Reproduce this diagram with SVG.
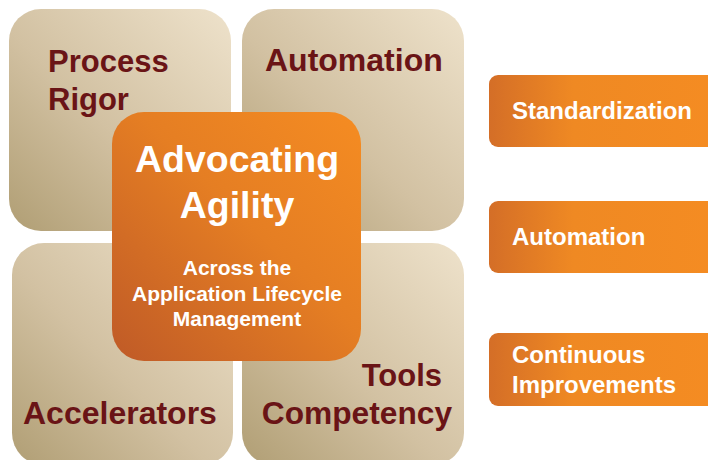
<svg xmlns="http://www.w3.org/2000/svg" width="708" height="460" viewBox="0 0 708 460">
<defs>
<linearGradient id="tile" x1="0" y1="1" x2="1" y2="0">
<stop offset="0" stop-color="#b09e74"/>
<stop offset="0.45" stop-color="#d2c1a2"/>
<stop offset="1" stop-color="#eee2cb"/>
</linearGradient>
<linearGradient id="core" x1="0" y1="1" x2="1" y2="0">
<stop offset="0" stop-color="#bf5a27"/>
<stop offset="0.55" stop-color="#e57e23"/>
<stop offset="1" stop-color="#f58c22"/>
</linearGradient>
<linearGradient id="btn" x1="0" y1="0" x2="1" y2="0">
<stop offset="0" stop-color="#d46e27"/>
<stop offset="0.35" stop-color="#ef8923"/>
<stop offset="1" stop-color="#f58c22"/>
</linearGradient>
<style>
.tile{fill:url(#tile)}
.core{fill:url(#core)}
.btn{fill:url(#btn)}
.tl{font-family:"Liberation Sans",Arial,sans-serif;font-weight:bold;font-size:31px;fill:#6a1416}
.ct{font-family:"Liberation Sans",Arial,sans-serif;font-weight:bold;fill:#ffffff;text-anchor:middle}
.bt{font-family:"Liberation Sans",Arial,sans-serif;font-weight:bold;font-size:24px;fill:#ffffff}
</style>
</defs>
<g id="tile-process-rigor">
<rect class="tile" x="9" y="9" width="222" height="222" rx="32"/>
<text class="tl" x="48" y="72">Process</text>
<text class="tl" x="48" y="110">Rigor</text>
</g>
<g id="tile-automation">
<rect class="tile" x="242" y="9" width="222" height="222" rx="32"/>
<text class="tl" x="265" y="71" style="font-size:32px">Automation</text>
</g>
<g id="tile-accelerators">
<rect class="tile" x="12" y="243" width="221" height="222" rx="32"/>
<text class="tl" x="23" y="424" style="font-size:32px">Accelerators</text>
</g>
<g id="tile-tools">
<rect class="tile" x="242" y="243" width="222" height="222" rx="32"/>
<text class="tl" x="442" y="386" text-anchor="end">Tools</text>
<text class="tl" x="452" y="424" text-anchor="end" style="font-size:31.7px">Competency</text>
</g>
<g id="center-advocating-agility">
<rect class="core" x="112" y="112" width="249" height="249" rx="32"/>
<text class="ct" x="237" y="172" font-size="37.5">Advocating</text>
<text class="ct" x="237" y="218" font-size="37.5">Agility</text>
<text class="ct" x="237" y="275" font-size="21">Across the</text>
<text class="ct" x="237" y="301" font-size="21">Application Lifecycle</text>
<text class="ct" x="237" y="326" font-size="21">Management</text>
</g>
<g id="btn-standardization">
<rect class="btn" x="489" y="75" width="240" height="72" rx="9"/>
<text class="bt" x="512" y="119">Standardization</text>
</g>
<g id="btn-automation">
<rect class="btn" x="489" y="201" width="240" height="72" rx="9"/>
<text class="bt" x="512" y="245">Automation</text>
</g>
<g id="btn-continuous-improvements">
<rect class="btn" x="489" y="333" width="240" height="73" rx="9"/>
<text class="bt" x="512" y="363">Continuous</text>
<text class="bt" x="512" y="393">Improvements</text>
</g>
<g id="connectors"></g>
</svg>
